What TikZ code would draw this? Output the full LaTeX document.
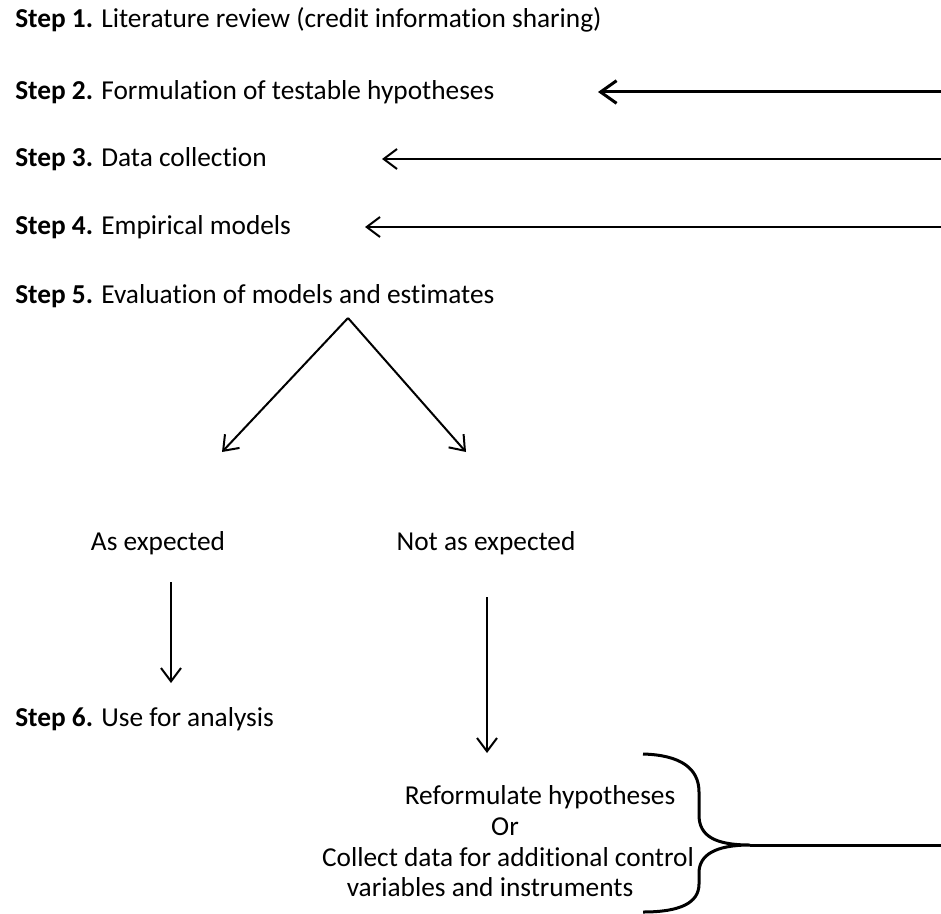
\documentclass[tikz,border=0pt]{standalone}
\usepackage{fontspec}
\setmainfont{Carlito}[Ligatures=NoCommon]
\usetikzlibrary{arrows.meta}
\tikzset{
  steptext/.style={anchor=west,inner sep=0pt,font=\fontsize{20.5}{24}\selectfont},
  plaintext/.style={anchor=base,inner sep=0pt,font=\fontsize{20.5}{24}\selectfont},
  barb/.style={-{Straight Barb[length=10pt,width=15pt]},line width=1.5pt},
  bigbarb/.style={-{Straight Barb[length=12pt,width=17pt]},line width=2.25pt}
}

\begin{document}
\begin{tikzpicture}[x=0.75pt,y=-0.75pt]
    \useasboundingbox (0,0) rectangle (941,913);
    \node[steptext] (s1) at (15,20) {\textbf{Step 1.} Literature review (credit information sharing)};
    \node[steptext] (s2) at (15,92) {\textbf{Step 2.} Formulation of testable hypotheses};
    \node[steptext] (s3) at (15,159) {\textbf{Step 3.} Data collection};
    \node[steptext] (s4) at (15,227) {\textbf{Step 4.} Empirical models};
    \node[steptext] (s5) at (15,296) {\textbf{Step 5.} Evaluation of models and estimates};
    \node[plaintext] (ok) at (158,550) {As expected};
    \node[plaintext] (notok) at (486,550) {Not as expected};
    \node[steptext] (s6) at (15,719) {\textbf{Step 6.} Use for analysis};
    \node[plaintext] (redo1) at (540,804) {Reformulate hypotheses};
    \node[plaintext] (redo2) at (505,835) {Or};
    \node[plaintext] (redo3) at (508,866) {Collect data for additional control};
    \node[plaintext] (redo4) at (490,896) {variables and instruments};
    \coordinate (r2) at (941,92);
    \coordinate (t2) at (598,92);
    \coordinate (r3) at (941,159);
    \coordinate (t3) at (382,159);
    \coordinate (r4) at (941,227);
    \coordinate (t4) at (365,227);
    \coordinate (apex) at (348,318);
    \coordinate (tl) at (222,452);
    \coordinate (tr) at (466,452);
    \coordinate (okb) at (171,582);
    \coordinate (okt) at (171,683);
    \coordinate (notb) at (487,597);
    \coordinate (nott) at (487,753);
    \coordinate (tip) at (750,845);
    \coordinate (rb) at (941,845);
    \draw[bigbarb] (r2) -- (t2);
    \draw[barb] (r3) -- (t3);
    \draw[barb] (r4) -- (t4);
    \draw[barb] (apex) -- (tl);
    \draw[barb] (apex) -- (tr);
    \draw[barb] (okb) -- (okt);
    \draw[barb] (notb) -- (nott);
    \draw[line width=2.25pt] (643,754) .. controls (680,755) and (699,768) .. (699,792) -- (699,815)
      .. controls (699,836) and (715,845) .. (tip)
      .. controls (715,845) and (699,855) .. (699,873) -- (699,884)
      .. controls (699,903) and (680,912) .. (643,912);
    \draw[line width=2.25pt] (tip) -- (rb);
\end{tikzpicture}
\end{document}
